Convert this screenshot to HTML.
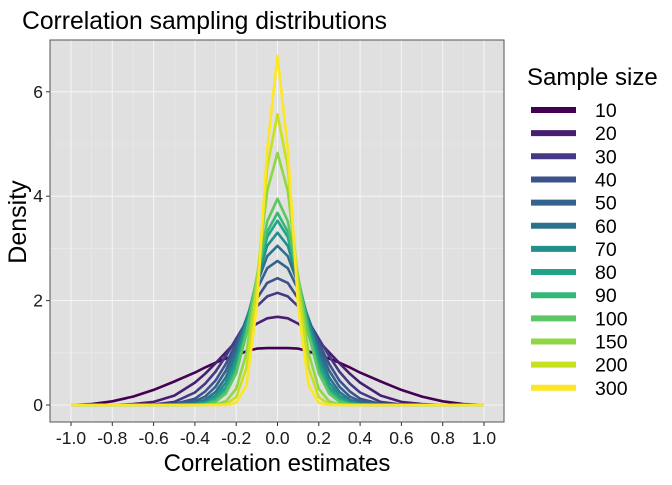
<!DOCTYPE html>
<html><head><meta charset="utf-8"><style>
body{margin:0;background:#fff;}
svg text{font-family:"Liberation Sans",Arial,sans-serif;}
</style></head><body>
<svg id="c" width="672" height="480" viewBox="0 0 672 480">
<rect x="0" y="0" width="672" height="480" fill="#fff"/>
<text x="22" y="29" font-size="24.7" fill="#000">Correlation sampling distributions</text>
<rect x="50" y="40" width="454" height="382" fill="#e0e0e0" stroke="#555" stroke-width="1"/>
<g id="grid"></g><g id="series"></g><g id="axes"></g><g id="legend"></g>
<text x="277" y="471" font-size="24" text-anchor="middle">Correlation estimates</text>
<text transform="translate(26,222) rotate(-90)" font-size="25" text-anchor="middle">Density</text>
<text x="527" y="85" font-size="24">Sample size</text>
</svg>
<script>
const sampleSizes=[10,20,30,40,50,60,70,80,90,100,150,200,300];
const colors=["#440154","#481F70","#443A83","#3B528B","#33638D","#2C728E","#21908C","#20A386","#35B779","#5DC863","#8FD744","#C8E020","#FDE725"];
const rGrid=[0,0.05,0.1,0.15,0.2,0.25,0.3,0.35,0.4,0.5,0.6,0.7,0.8,0.9,1.0];
const d10=[1.09,1.09,1.08,1.03,0.95,0.89,0.81,0.72,0.62,0.45,0.29,0.16,0.07,0.02,0];
const d20=[1.69,1.66,1.56,1.41,1.22,1.01,0.80,0.60,0.43,0.18,0.06,0.02,0,0,0];
const d30=[2.15,2.08,1.89,1.60,1.27,0.94,0.64,0.41,0.24,0.06,0.01,0,0,0,0];
const d40=[2.43,2.34,2.04,1.63,1.19,0.79,0.47,0.26,0.12,0.02,0,0,0,0,0];
const d50=[2.76,2.62,2.21,1.66,1.11,0.66,0.35,0.16,0.07,0.01,0,0,0,0,0];
const d60=[3.05,2.85,2.32,1.63,1.00,0.53,0.25,0.10,0.03,0,0,0,0,0,0];
const d70=[3.30,3.05,2.39,1.59,0.90,0.43,0.18,0.06,0.02,0,0,0,0,0,0];
const d80=[3.53,3.22,2.43,1.52,0.79,0.34,0.13,0.04,0.01,0,0,0,0,0,0];
const d90=[3.68,3.32,2.42,1.42,0.69,0.27,0.09,0.02,0,0,0,0,0,0,0];
const d100=[3.95,3.52,2.46,1.36,0.61,0.22,0.06,0.01,0,0,0,0,0,0,0];
const d150=[4.83,4.10,2.42,1.00,0.31,0.07,0.01,0,0,0,0,0,0,0,0];
const d200=[5.57,4.55,2.25,0.72,0.15,0.02,0,0,0,0,0,0,0,0,0];
const d300=[6.69,4.90,1.90,0.38,0.04,0,0,0,0,0,0,0,0,0,0];
const densities=[d10,d20,d30,d40,d50,d60,d70,d80,d90,d100,d150,d200,d300];
const xTicks=[-1.0,-0.8,-0.6,-0.4,-0.2,0.0,0.2,0.4,0.6,0.8,1.0];
const yTicks=[0,2,4,6];

const NS="http://www.w3.org/2000/svg";
const X=v=>277.5+v*206.5, Y=v=>405-v*52.2;
function mk(tag,attrs,parent){const e=document.createElementNS(NS,tag);for(const k in attrs)e.setAttribute(k,attrs[k]);parent.appendChild(e);return e;}
const grid=document.getElementById('grid'),axes=document.getElementById('axes'),ser=document.getElementById('series'),leg=document.getElementById('legend');
for(let i=0;i<xTicks.length-1;i++){const m=(xTicks[i]+xTicks[i+1])/2;
 const g=mk('line',{x1:X(m),x2:X(m),y1:40.5,y2:421.5,stroke:'#ececec','stroke-width':0.6},grid);
 }
for(let i=0;i<yTicks.length;i++){const m=yTicks[i]+1;if(Y(m)>40){
 const g=mk('line',{x1:50.5,x2:503.5,y1:Y(m),y2:Y(m),stroke:'#ececec','stroke-width':0.6},grid);
 }}
xTicks.forEach(t=>{
 const g=mk('line',{x1:X(t),x2:X(t),y1:40.5,y2:421.5,stroke:'#f4f4f4','stroke-width':1.1},grid);
 
 const tk=mk('line',{x1:X(t),x2:X(t),y1:422,y2:426,stroke:'#333','stroke-width':1},axes);
 
 const tx=mk('text',{x:X(t),y:444,'font-size':17.5,'text-anchor':'middle',fill:'#1a1a1a'},axes);tx.textContent=t.toFixed(1);
 });
yTicks.forEach(t=>{
 const g=mk('line',{x1:50.5,x2:503.5,y1:Y(t),y2:Y(t),stroke:'#f4f4f4','stroke-width':1.1},grid);
 
 const tk=mk('line',{x1:46,x2:50,y1:Y(t),y2:Y(t),stroke:'#333','stroke-width':1},axes);
 
 const tx=mk('text',{x:43,y:Y(t)+6,'font-size':17.5,'text-anchor':'end',fill:'#1a1a1a'},axes);tx.textContent=t;
 });
densities.forEach((d,i)=>{
 const pts=[];
 for(let j=rGrid.length-1;j>0;j--)pts.push([X(-rGrid[j]),Y(d[j])]);
 for(let j=0;j<rGrid.length;j++)pts.push([X(rGrid[j]),Y(d[j])]);
 const p=mk('path',{d:'M'+pts.map(p=>p[0].toFixed(1)+','+p[1].toFixed(1)).join('L'),fill:'none',stroke:colors[i],'stroke-width':2.6,'stroke-linejoin':'round'},ser);
 
 
 const ly=110+i*23.15;
 const k=mk('line',{x1:531,x2:576,y1:ly,y2:ly,stroke:colors[i],'stroke-width':6},leg);
 
 
 const t=mk('text',{x:595,y:ly+7,'font-size':19.5},leg);t.textContent=sampleSizes[i];
 
 
});
</script>
</body></html>
